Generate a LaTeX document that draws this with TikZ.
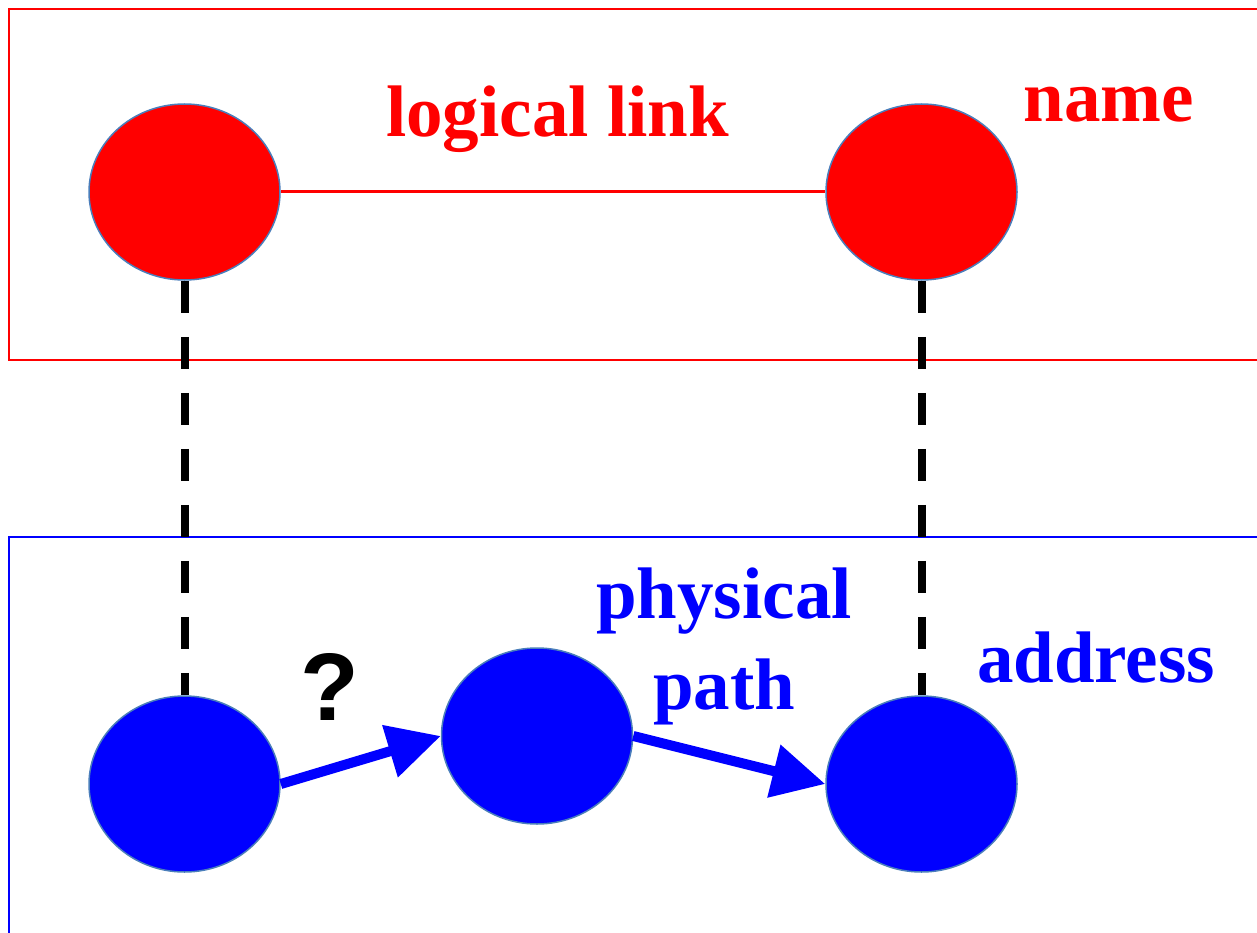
\documentclass[tikz,border=0pt]{standalone}
\usepackage{fontspec}
\setmainfont{Liberation Serif}
\newfontfamily\qfont{Liberation Sans}
\usetikzlibrary{positioning,arrows.meta,shapes.geometric}
\definecolor{rimcolor}{RGB}{74,126,187}

\begin{document}
\begin{tikzpicture}[x=1pt,y=-1pt,
host/.style={ellipse,draw=rimcolor,line width=1.5pt,minimum width=191pt,minimum height=176pt,inner sep=0pt},
lbl/.style={font=\fontsize{73}{91}\selectfont\bfseries,anchor=base,inner sep=0pt,align=center},
map/.style={line width=8pt,dash pattern=on 32pt off 24pt},
hop/.style={line width=10pt,blue,-{Triangle[length=53pt,width=52pt]}}]
\useasboundingbox (0,0) rectangle (1257,933);
\clip (0,0) rectangle (1257,933);
% the two layers
\draw[red,line width=2.5pt] (9,360) -- (9,9) -- (1270,9) -- (1270,360) -- cycle;
\draw[blue,line width=2.5pt] (9,945) -- (9,537) -- (1270,537) -- (1270,945) -- cycle;
% name layer
\node[host,fill=red] (rl) at (184.5,192) {};
\node[host,fill=red] (rr) at (921.5,192) {};
\draw[red,line width=3pt] (rl) -- (rr);
\node[lbl,red] (ll) at (557.5,137) {logical link};
\node[lbl,red] (nm) at (1109,122) {name};
% address layer
\node[host,fill=blue] (bl) at (184.5,784) {};
\node[host,fill=blue] (bm) at (537,736) {};
\node[host,fill=blue] (br) at (921.5,784) {};
\draw[hop] (bl.east) -- (bm.west);
\draw[hop] (bm.east) -- (br.west);
\node[lbl,blue] (pp) at (724,709) {physical\\path};
\node[lbl,blue] (ad) at (1096,682) {address};
\node[anchor=base,inner sep=0pt,font=\qfont\fontsize{96}{96}\selectfont\bfseries] (q) at (330,720) {?};
% mapping
\draw[map] (rl.south) -- (bl.north);
\draw[map] (rr.south) -- (br.north);
\end{tikzpicture}
\end{document}
